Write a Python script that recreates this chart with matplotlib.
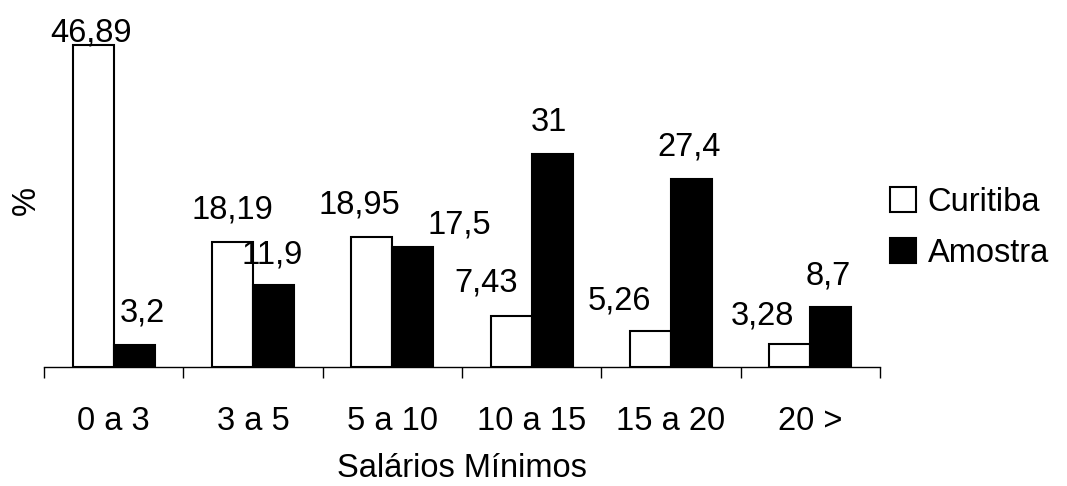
import numpy as np
import matplotlib
matplotlib.use("Agg")
import matplotlib.pyplot as plt
from matplotlib.patches import Patch

plt.rcParams['font.family'] = ['Liberation Sans', 'DejaVu Sans']

faixas = ["0 a 3", "3 a 5", "5 a 10", "10 a 15", "15 a 20", "20 >"]
curitiba = [46.89, 18.19, 18.95, 7.43, 5.26, 3.28]
amostra = [3.2, 11.9, 17.5, 31, 27.4, 8.7]

# hand placed label offsets (pixels): horizontal shift, gap above bar top
off_curitiba = [(-2, 3), (0, 24), (-12, 23), (-25, 24), (-31, 21), (-27, 20)]
off_amostra = [(8, 24), (-1, 22), (46, 13), (-3, 23), (-2, 23), (-3, 23)]

W, H = 1067, 486
fig = plt.figure(figsize=(W / 100, H / 100), dpi=100)
ax = fig.add_axes([44 / W, 1 - 367 / H, 836 / W, 343.5 / H])

fs = 23.5
px = 0.72  # points per pixel
x = np.arange(len(faixas))
bw = 0.295

b1 = ax.bar(x - bw / 2, curitiba, bw, facecolor="white", edgecolor="black", linewidth=1.5)
b2 = ax.bar(x + bw / 2, amostra, bw, facecolor="black", edgecolor="black", linewidth=1.5)

def fmt(v):
    return ("%g" % v).replace(".", ",")

for bars, vals, offs in [(b1, curitiba, off_curitiba), (b2, amostra, off_amostra)]:
    for b, v, (dx, dy) in zip(bars, vals, offs):
        ax.annotate(fmt(v), (b.get_x() + b.get_width() / 2, v),
                    xytext=(dx * px, dy * px), textcoords="offset points",
                    ha="center", va="baseline", fontsize=fs, annotation_clip=False)

ax.set_xlim(-0.5, len(faixas) - 0.5)
ax.set_ylim(0, 50)
for s in ["top", "right", "left"]:
    ax.spines[s].set_visible(False)
ax.spines["bottom"].set_linewidth(1.0)
ax.set_yticks([])

ax.set_xticks(np.arange(len(faixas) + 1) - 0.5)
ax.set_xticklabels([])
ax.tick_params(axis="x", which="major", direction="out", length=8, width=1.0)
ax.set_xticks(x, minor=True)
ax.set_xticklabels(faixas, minor=True, fontsize=fs)
ax.tick_params(axis="x", which="minor", length=0, pad=28)

fig.text(462 / W, 1 - 477 / H, "Salários Mínimos", ha="center", va="baseline", fontsize=fs)
fig.text(26 / W, 1 - 200 / H, "%", ha="center", va="center", rotation=90, fontsize=fs)

handles = [Patch(facecolor="white", edgecolor="black", linewidth=1.5, label="Curitiba"),
           Patch(facecolor="black", edgecolor="black", linewidth=1.5, label="Amostra")]
fig.legend(handles=handles, loc="center left", bbox_to_anchor=(890 / W, 1 - 228 / H),
           frameon=False, fontsize=fs, handlelength=0.8, handleheight=0.8,
           handletextpad=0.35, labelspacing=0.62, borderpad=0, borderaxespad=0)

fig.savefig("out.png", dpi=100)
